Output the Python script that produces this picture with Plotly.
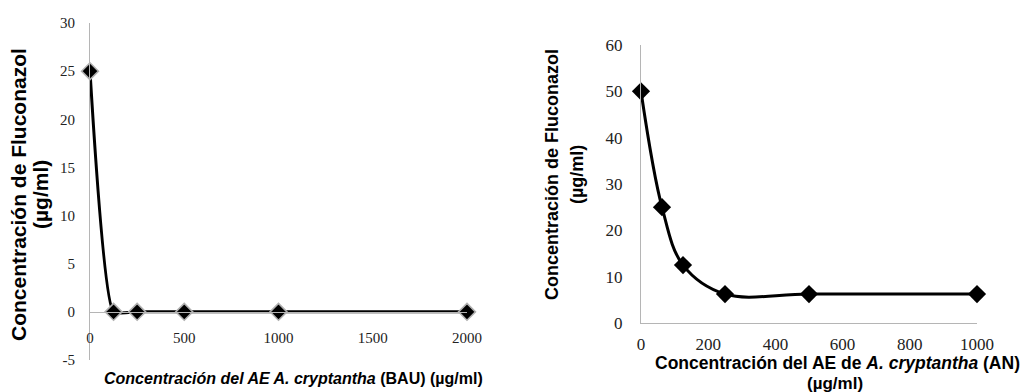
import plotly.graph_objects as go

# Left chart data (BAU)
bau_x = [0, 125, 250, 500, 1000, 2000]
bau_y = [25, 0, 0, 0, 0, 0]
# Right chart data (AN)
an_x = [0, 62.5, 125, 250, 500, 1000]
an_y = [50, 25, 12.5, 6.25, 6.25, 6.25]

left_xticks = [0, 500, 1000, 1500, 2000]
left_yticks = [-5, 0, 5, 10, 15, 20, 25, 30]
right_xticks = [0, 200, 400, 600, 800, 1000]
right_yticks = [0, 10, 20, 30, 40, 50, 60]

W, H = 1026, 392
def px_x(p): return p / W
def px_y(p): return (H - p) / H

serif = "Liberation Serif"
sans = "Liberation Sans"

fig = go.Figure()
fig.add_trace(go.Scatter(
    x=bau_x, y=bau_y, mode="lines+markers",
    line=dict(color="black", width=3, shape="spline", smoothing=0.45),
    marker=dict(symbol="diamond", size=13, color="black",
                line=dict(color="#b0b0b0", width=1.5)),
    xaxis="x", yaxis="y", cliponaxis=False, showlegend=False))
fig.add_trace(go.Scatter(
    x=an_x, y=an_y, mode="lines+markers",
    line=dict(color="black", width=3, shape="spline", smoothing=1),
    marker=dict(symbol="diamond", size=14, color="black"),
    xaxis="x2", yaxis="y2", cliponaxis=False, showlegend=False))

ly0, ly1 = px_y(360), px_y(23)
lrange = [-5, 30]
zero_pos = ly0 + (0 - lrange[0]) / (lrange[1] - lrange[0]) * (ly1 - ly0)

axis_col = "#b5b5b5"
common = dict(showgrid=False, zeroline=False, showline=True, linecolor=axis_col,
              linewidth=1, ticks="outside", tickcolor="rgba(0,0,0,0)", automargin=False)
fig.update_layout(
    width=W, height=H, margin=dict(l=0, r=0, t=0, b=0, autoexpand=False),
    paper_bgcolor="white", plot_bgcolor="white",
    xaxis=dict(domain=[px_x(90), px_x(467)], range=[0, 2000],
               anchor="free", position=zero_pos,
               tickvals=left_xticks, ticktext=[str(v) for v in left_xticks],
               ticklen=12, tickfont=dict(family=serif, size=15, color="#222"), **common),
    yaxis=dict(domain=[ly0, ly1], range=lrange, anchor="x",
               tickvals=left_yticks, ticktext=[str(v) for v in left_yticks],
               ticklen=11, tickfont=dict(family=serif, size=15, color="#222"), **common),
    xaxis2=dict(domain=[px_x(641), px_x(977)], range=[0, 1000], anchor="y2",
                tickvals=right_xticks, ticktext=[str(v) for v in right_xticks],
                ticklen=6, tickfont=dict(family=serif, size=17, color="#222"), **common),
    yaxis2=dict(domain=[px_y(323), px_y(45)], range=[0, 60], anchor="x2",
                tickvals=right_yticks, ticktext=[str(v) for v in right_yticks],
                ticklen=14, tickfont=dict(family=serif, size=17, color="#222"), **common),
)

def ann(text, x, y, size, angle=0):
    fig.add_annotation(text=text, x=px_x(x), y=px_y(y), xref="paper", yref="paper",
                       xanchor="center", yanchor="middle", showarrow=False, textangle=angle,
                       font=dict(family=sans, size=size, color="black"))

# Left titles
ann("<b>Concentración de Fluconazol</b>", 18, 195, 21, -90)
ann("<b>(µg/ml)</b>", 40, 195, 21, -90)
ann("<b><i>Concentración del AE A. cryptantha</i> (BAU) (µg/ml)</b>", 293, 378, 16)
# Right titles
ann("<b>Concentración de Fluconazol</b>", 552, 175, 18, -90)
ann("<b>(µg/ml)</b>", 577, 175, 18, -90)
ann("<b>Concentración del AE de <i>A. cryptantha</i> (AN)</b>", 837, 363, 17.5)
ann("<b>(µg/ml)</b>", 835, 383, 17)

fig.write_html("out.html", config={"displayModeBar": False},
               post_script="document.body.style.margin='0';document.body.style.padding='0';document.body.style.overflow='hidden';")
